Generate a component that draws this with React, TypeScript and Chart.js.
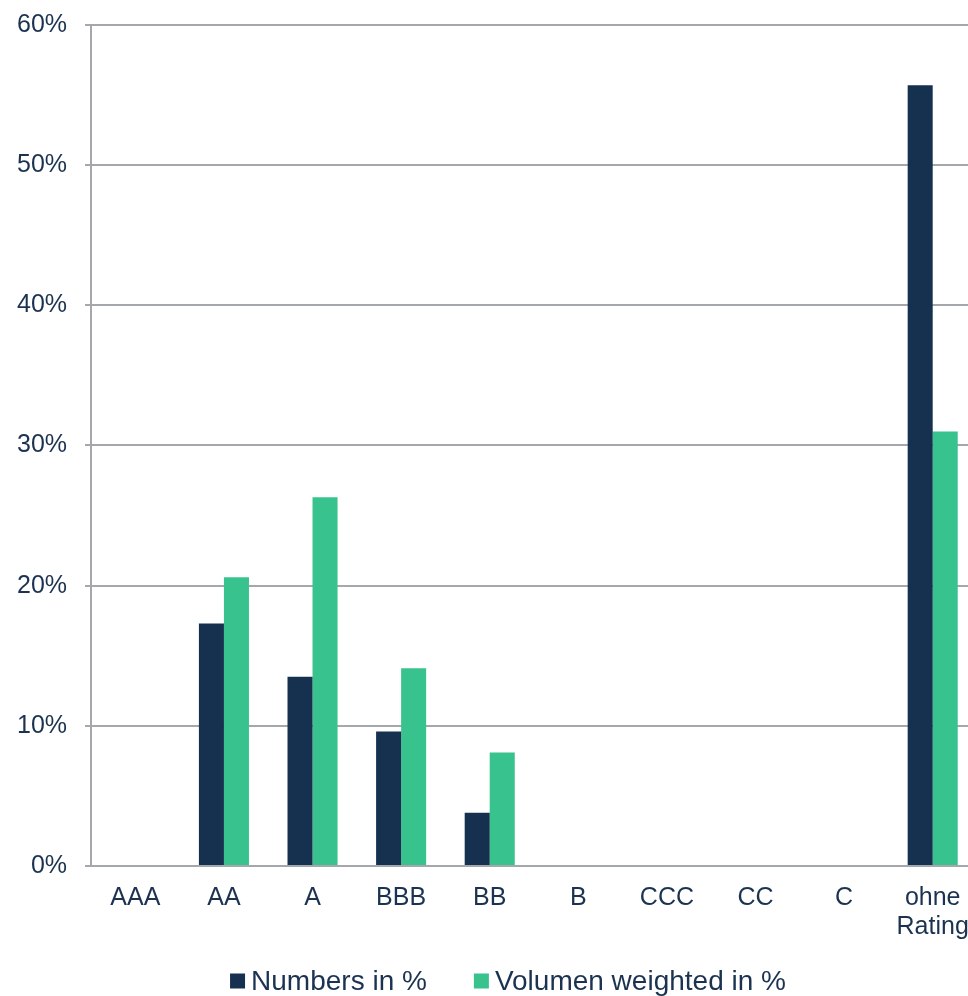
import React, { useEffect, useRef } from "react";
import { Chart, registerables } from "chart.js";

Chart.register(...registerables);

const categories: (string | string[])[] = ["AAA", "AA", "A", "BBB", "BB", "B", "CCC", "CC", "C", ["ohne", "Rating"]];
const numbersPct = [0, 17.3, 13.5, 9.6, 3.8, 0, 0, 0, 0, 55.7];
const volumenPct = [0, 20.6, 26.3, 14.1, 8.1, 0, 0, 0, 0, 31.0];
const seriesNames = ["Numbers in %", "Volumen weighted in %"];
const yMin = 0;
const yMax = 60;
const yStep = 10;

const DARK = "#15314f";
const GREEN = "#38c28e";
const TEXT = "#1b3350";
const GRID = "#a4a8ad";
const FONT = "'Liberation Sans', Arial, sans-serif";

const bottomLegend = {
  id: "bottomLegend",
  afterDraw(chart: any) {
    const ctx = chart.ctx;
    const box = 15;
    const gapBoxText = 6;
    const gapItems = 47;
    ctx.save();
    ctx.font = `28px ${FONT}`;
    ctx.textBaseline = "middle";
    ctx.textAlign = "left";
    const items = chart.data.datasets.map((d: any) => ({
      text: d.label as string,
      color: d.backgroundColor as string,
      w: ctx.measureText(d.label).width,
    }));
    const total = items.reduce((s: number, it: any, i: number) => s + box + gapBoxText + it.w + (i > 0 ? gapItems : 0), 0);
    let x = chart.width / 2 - total / 2;
    const yc = chart.height - 15;
    items.forEach((it: any, i: number) => {
      if (i > 0) x += gapItems;
      ctx.fillStyle = it.color;
      ctx.fillRect(x, yc - box / 2, box, box);
      x += box + gapBoxText;
      ctx.fillStyle = TEXT;
      ctx.fillText(it.text, x, yc + 1);
      x += it.w;
    });
    ctx.restore();
  },
};

export default function App() {
  const ref = useRef<HTMLCanvasElement | null>(null);
  useEffect(() => {
    if (!ref.current) return;
    const chart = new Chart(ref.current, {
      type: "bar",
      data: {
        labels: categories,
        datasets: [
          { label: seriesNames[0], data: numbersPct, backgroundColor: DARK, borderWidth: 0 },
          { label: seriesNames[1], data: volumenPct, backgroundColor: GREEN, borderWidth: 0 },
        ],
      },
      options: {
        responsive: false,
        animation: false,
        devicePixelRatio: 1,
        layout: { padding: { left: -1, right: 39, top: 0, bottom: 36 } },
        datasets: { bar: { categoryPercentage: 0.565, barPercentage: 1 } },
        scales: {
          x: {
            grid: { display: false, drawTicks: false },
            border: { display: true, color: GRID, width: 2 },
            ticks: {
              color: TEXT,
              font: { family: FONT, size: 25, lineHeight: 1.16 },
              padding: 18,
              maxRotation: 0,
              autoSkip: false,
            },
          },
          y: {
            min: yMin,
            max: yMax,
            grid: { color: GRID, lineWidth: 2, tickLength: 6, drawTicks: true },
            border: { display: true, color: GRID, width: 2 },
            ticks: {
              stepSize: yStep,
              color: TEXT,
              padding: 18,
              font: { family: FONT, size: 25, lineHeight: 0.55 },
              callback: (v: any) => v + "%",
            },
          },
        },
        plugins: {
          legend: { display: false },
          tooltip: { enabled: false },
        },
      },
      plugins: [bottomLegend],
    });
    return () => chart.destroy();
  }, []);
  return (
    <div style={{ position: "absolute", left: 0, top: 0, width: 968, height: 996, overflow: "hidden", background: "#fff" }}>
      <canvas ref={ref} width={1016} height={996} style={{ display: "block" }} />
    </div>
  );
}
